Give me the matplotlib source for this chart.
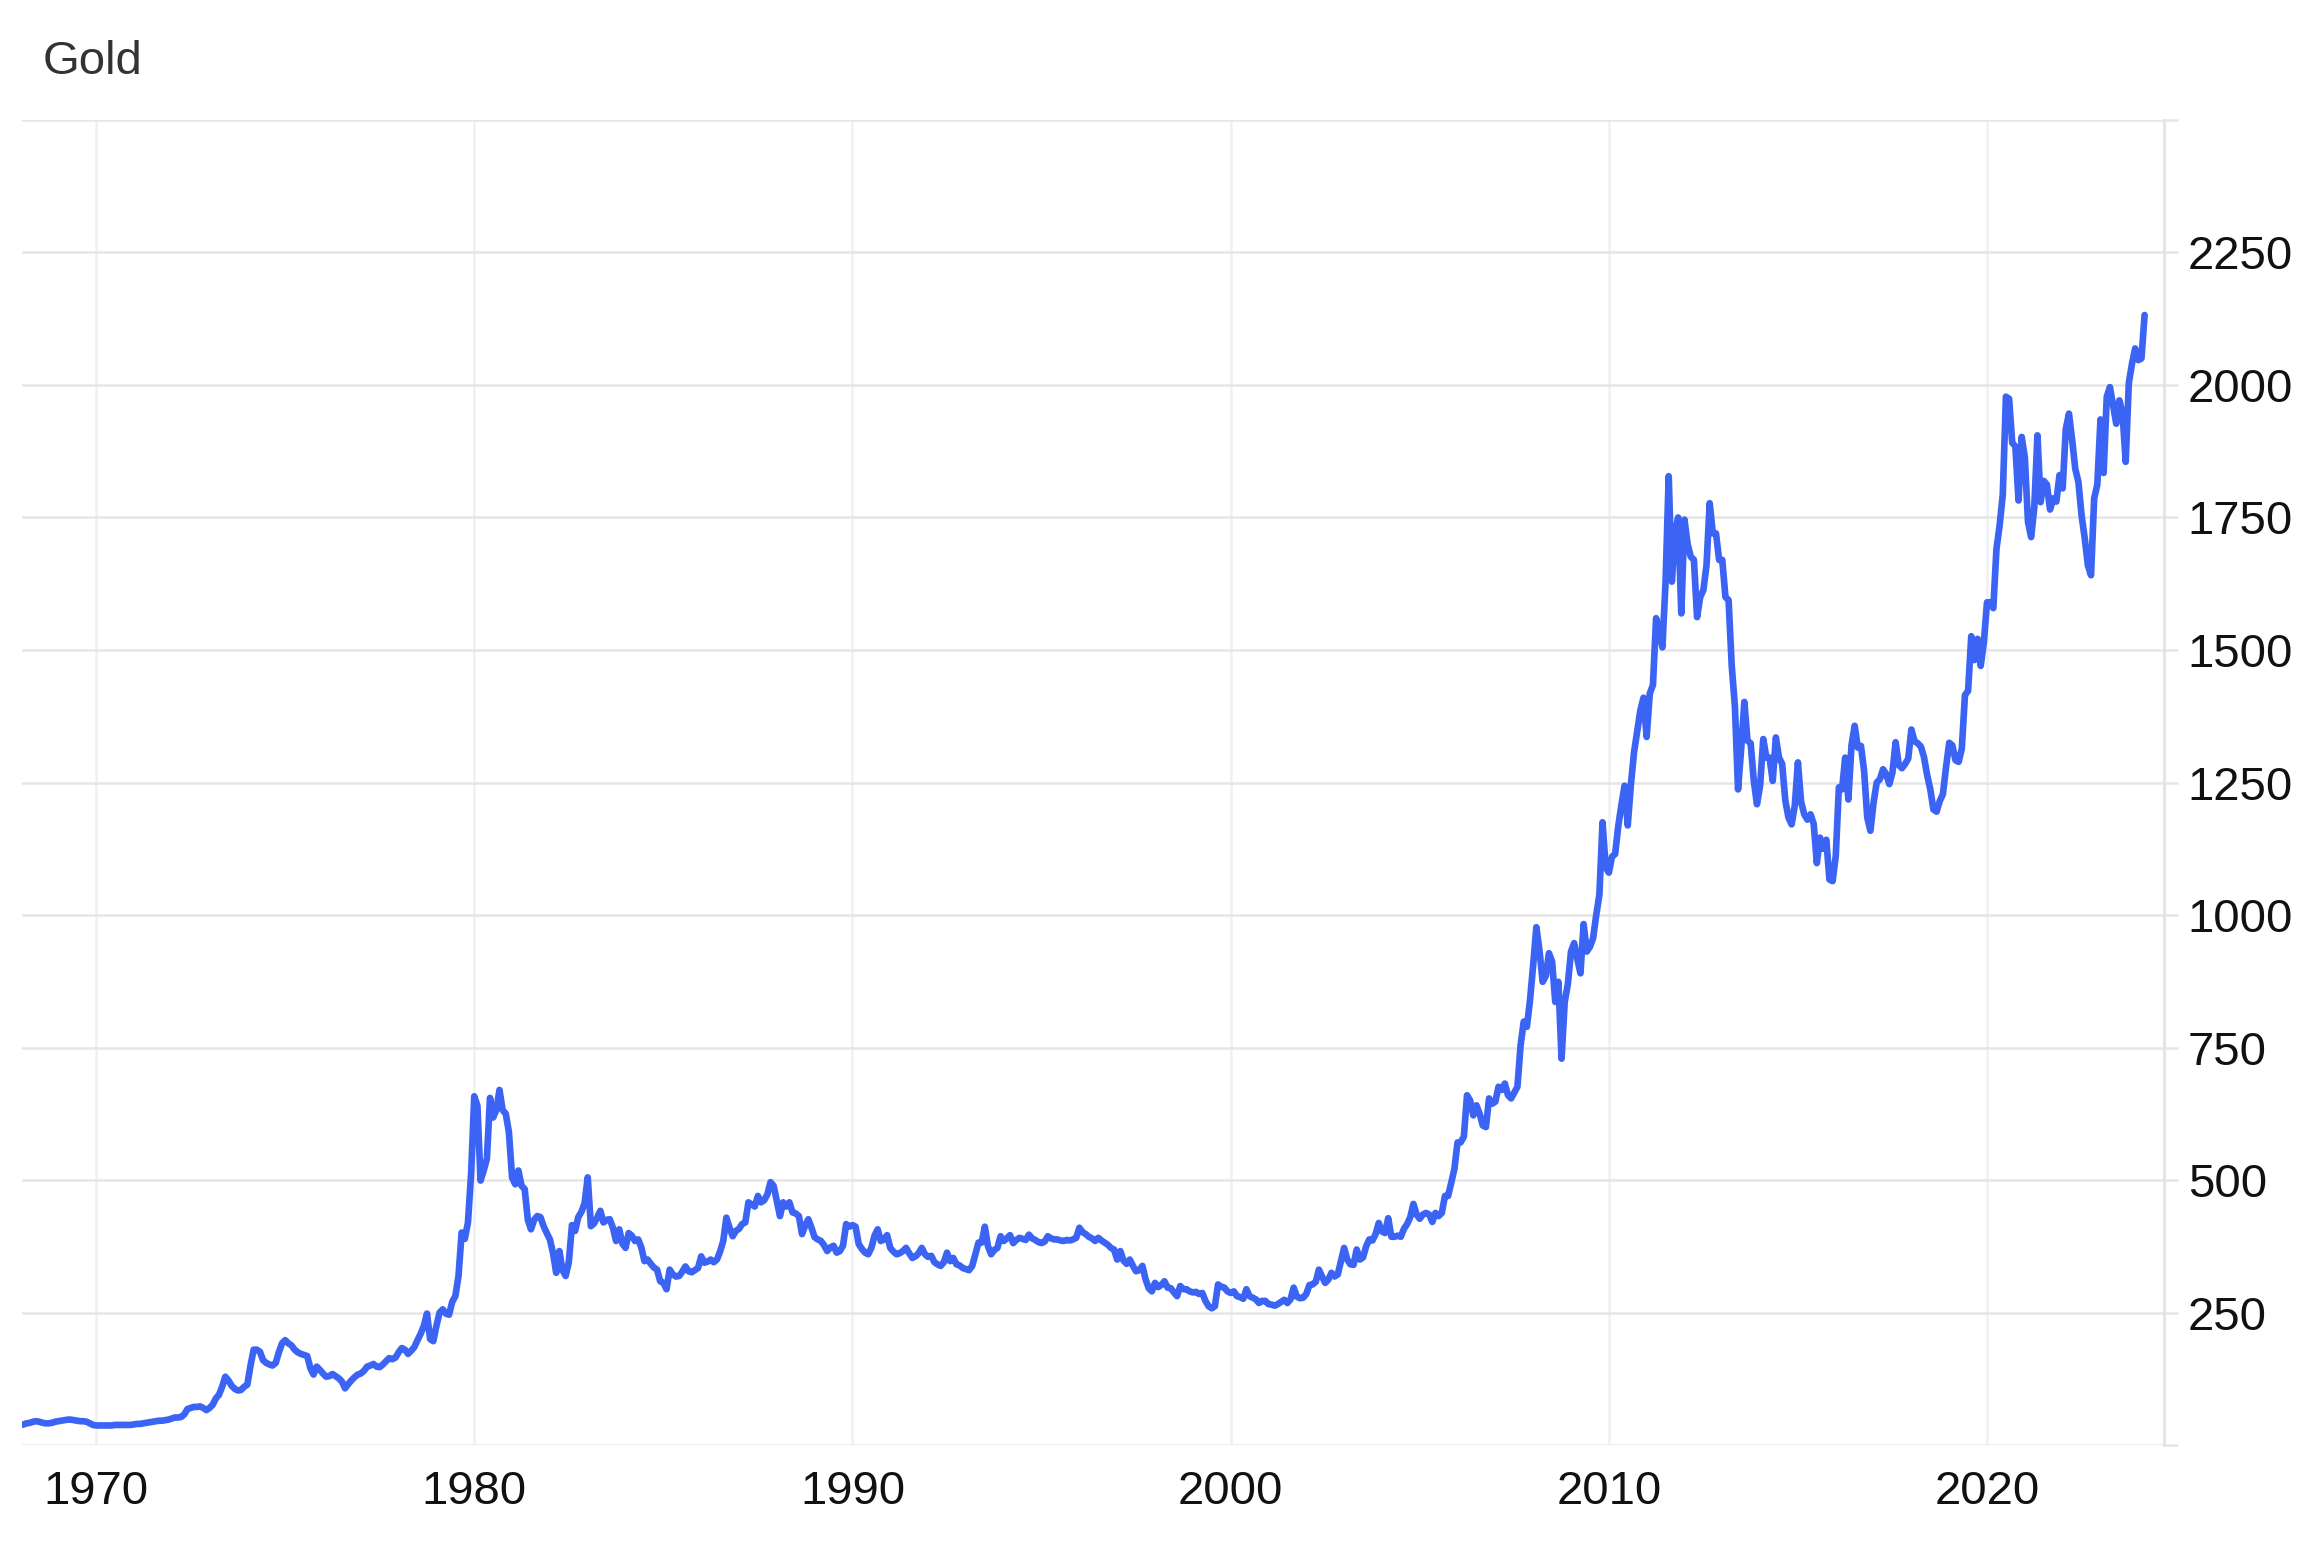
import numpy as np
import matplotlib
matplotlib.use("Agg")
import matplotlib.pyplot as plt

plt.rcParams['font.family'] = ['Liberation Sans', 'DejaVu Sans']

# monthly gold price (USD/oz), Jan 1968 .. Mar 2024
start_year = 1968
gold = [
    38, 39, 41, 42, 44, 45, 44, 42, 41, 41, 42, 44,               # 1968
    45, 46, 47, 48, 48, 47, 46, 45, 45, 44, 41, 38,               # 1969
    37, 37, 37, 37, 37, 37, 38, 38, 38, 38, 38, 38,               # 1970
    39, 40, 40, 41, 42, 43, 44, 45, 46, 46, 47, 48,               # 1971
    50, 52, 52, 53, 58, 68, 70, 72, 72, 73, 70, 66,               # 1972
    70, 76, 88, 95, 110, 129, 122, 112, 106, 103, 104, 110,       # 1973
    114, 150, 180, 180, 176, 160, 155, 152, 150, 155, 175, 192,   # 1974
    198, 192, 188, 180, 175, 172, 170, 168, 145, 133, 148, 142,   # 1975
    135, 129, 130, 134, 130, 126, 120, 107, 115, 122, 128, 133,   # 1976
    135, 140, 148, 150, 153, 148, 147, 152, 158, 164, 162, 165,   # 1977
    175, 183, 180, 172, 178, 185, 198, 210, 225, 248, 200, 196,   # 1978
    225, 250, 256, 248, 246, 270, 281, 319, 401, 389, 420, 512,   # 1979
    658, 640, 499, 518, 540, 655, 618, 632, 670, 632, 625, 590,   # 1980
    505, 492, 518, 489, 483, 425, 407, 425, 432, 430, 413, 400,   # 1981
    388, 362, 325, 366, 330, 319, 345, 415, 404, 430, 440, 456,   # 1982
    505, 413, 418, 429, 442, 420, 425, 426, 410, 385, 407, 380,   # 1983
    372, 400, 395, 385, 388, 373, 347, 350, 342, 335, 331, 309,   # 1984
    306, 294, 331, 322, 318, 319, 327, 337, 328, 326, 330, 334,   # 1985
    356, 344, 346, 350, 345, 350, 365, 385, 429, 410, 394, 404,   # 1986
    408, 417, 420, 458, 454, 450, 470, 458, 462, 473, 496, 489,   # 1987
    460, 432, 458, 450, 458, 439, 437, 432, 398, 414, 426, 410,   # 1988
    392, 388, 385, 377, 366, 373, 376, 363, 366, 376, 417, 412,   # 1989
    415, 412, 379, 370, 363, 360, 372, 395, 407, 385, 388, 396,   # 1990
    372, 365, 360, 362, 366, 372, 362, 353, 356, 362, 372, 360,   # 1991
    355, 357, 345, 341, 338, 345, 363, 347, 353, 341, 339, 334,   # 1992
    332, 330, 338, 360, 382, 382, 412, 375, 360, 368, 372, 394,   # 1993
    385, 390, 396, 381, 387, 391, 389, 387, 397, 390, 387, 383,   # 1994
    381, 384, 394, 390, 388, 388, 386, 385, 387, 386, 388, 391,   # 1995
    410, 402, 398, 393, 390, 385, 391, 386, 382, 378, 372, 369,   # 1996
    350, 366, 348, 342, 350, 338, 328, 330, 338, 313, 296, 290,   # 1997
    306, 298, 302, 309, 297, 296, 288, 281, 300, 294, 294, 290,   # 1998
    288, 289, 285, 287, 272, 262, 258, 262, 303, 299, 297, 290,   # 1999
    287, 290, 281, 279, 276, 294, 281, 278, 275, 268, 272, 272,   # 2000
    266, 265, 263, 266, 270, 274, 268, 275, 297, 280, 277, 278,   # 2001
    285, 302, 303, 308, 331, 318, 306, 312, 325, 318, 322, 347,   # 2002
    372, 350, 341, 340, 369, 350, 354, 375, 388, 386, 398, 419,   # 2003
    403, 400, 428, 393, 393, 395, 393, 408, 417, 430, 455, 435,   # 2004
    427, 435, 438, 435, 421, 438, 432, 438, 470, 470, 495, 521,   # 2005
    571, 571, 582, 660, 650, 622, 641, 625, 603, 600, 654, 644,   # 2006
    648, 676, 670, 682, 660, 654, 665, 676, 754, 799, 789, 840,   # 2007
    906, 977, 933, 874, 885, 928, 912, 836, 874, 729, 836, 870,   # 2008
    931, 947, 917, 890, 983, 931, 940, 956, 1000, 1038, 1175, 1090,        # 2009
    1080, 1110, 1115, 1168, 1208, 1244, 1169, 1246, 1307, 1346, 1386, 1410,  # 2010
    1336, 1418, 1434, 1560, 1536, 1505, 1628, 1828, 1629, 1722, 1750, 1569,  # 2011
    1746, 1700, 1676, 1670, 1562, 1600, 1613, 1660, 1777, 1720, 1720, 1670,  # 2012
    1670, 1600, 1594, 1470, 1394, 1237, 1314, 1402, 1329, 1324, 1253, 1209,  # 2013
    1244, 1332, 1297, 1297, 1253, 1335, 1297, 1285, 1216, 1184, 1171, 1206,  # 2014
    1288, 1214, 1190, 1180, 1190, 1172, 1098, 1146, 1125, 1142, 1067, 1064,  # 2015
    1111, 1241, 1237, 1297, 1218, 1320, 1357, 1316, 1319, 1272, 1184, 1159,  # 2016
    1212, 1250, 1256, 1275, 1266, 1247, 1269, 1326, 1283, 1277, 1285, 1295,  # 2017
    1350, 1328, 1324, 1318, 1298, 1264, 1237, 1199, 1195, 1215, 1228, 1279,  # 2018
    1325, 1320, 1292, 1289, 1314, 1415, 1423, 1526, 1481, 1521, 1470, 1515,  # 2019
    1590, 1590, 1579, 1691, 1735, 1793, 1978, 1974, 1891, 1884, 1782, 1902,  # 2020
    1863, 1742, 1713, 1769, 1905, 1779, 1819, 1812, 1765, 1786, 1780, 1830,  # 2021
    1805, 1917, 1946, 1897, 1842, 1817, 1754, 1711, 1660, 1641, 1786, 1812,  # 2022
    1935, 1834, 1978, 1996, 1962, 1927, 1971, 1946, 1855, 2004, 2040, 2069,  # 2023
    2047, 2050, 2132,                                                        # 2024
]

year_ticks = [1970, 1980, 1990, 2000, 2010, 2020]
price_ticks = [0, 250, 500, 750, 1000, 1250, 1500, 1750, 2000, 2250, 2500]
price_labels = ['', '250', '500', '750', '1000', '1250', '1500', '1750', '2000', '2250', '']

x = start_year + np.arange(len(gold)) / 12.0

fig = plt.figure(figsize=(23.1, 15.52), dpi=100)
ax = fig.add_axes([0.0095, 0.0689, 0.9273, 0.8538])

ax.plot(x, gold, color='#3b64f4', lw=4.8, solid_joinstyle='round',
        solid_capstyle='round', zorder=3)

ax.set_xlim(1968.04, 2024.68)
ax.set_ylim(0, 2500)

ax.set_xticks(year_ticks)
ax.set_yticks(price_ticks)
ax.set_yticklabels(price_labels)
ax.yaxis.tick_right()

for s in ['left', 'top', 'bottom']:
    ax.spines[s].set_visible(False)
ax.spines['right'].set_color('#e3e3e3')
ax.spines['right'].set_linewidth(2)

ax.set_axisbelow(True)
ax.xaxis.grid(True, color='#edf1f7', lw=1.8)
ax.yaxis.grid(True, color='#e6e6e6', lw=1.8)

ax.tick_params(axis='y', length=10, width=1.8, color='#e6e6e6', pad=7,
               labelsize=34, labelcolor='#111111')
ax.tick_params(axis='x', length=0, pad=18, labelsize=34, labelcolor='#111111')

fig.text(43 / 2310, 1 - 62 / 1552, 'Gold', ha='left', va='center',
         fontsize=34, color='#333333')

fig.savefig('out.png', dpi=100, facecolor='white')
